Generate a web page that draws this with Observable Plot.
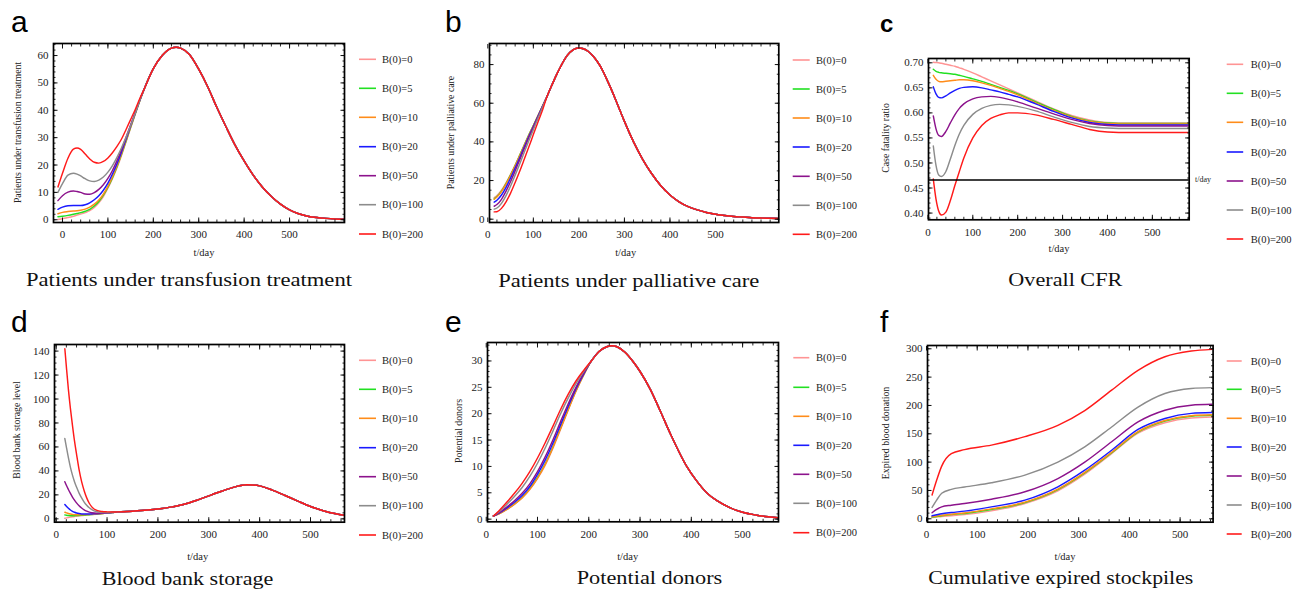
<!DOCTYPE html>
<html><head><meta charset="utf-8">
<script src="https://cdn.jsdelivr.net/npm/d3@7"></script>
<script src="https://cdn.jsdelivr.net/npm/@observablehq/plot@0.6"></script>
<style>
body{margin:0;background:#fff;}
#page{position:relative;width:1298px;height:592px;overflow:hidden;background:#fff;}
#page > div.plot{position:absolute;}
#overlay{position:absolute;left:0;top:0;}
</style></head><body><div id="page"></div>
<script>
// ---------- shared ----------
const seriesNames = ["B(0)=0","B(0)=5","B(0)=10","B(0)=20","B(0)=50","B(0)=100","B(0)=200"];
const seriesColors = ["#ff9494","#22e022","#ff8c1a","#1a1aff","#8c138c","#8c8c8c","#ff1a1a"];
const xTickLabels = [0, 100, 200, 300, 400, 500];

// ---------- panel a : patients under transfusion treatment ----------
const aTimeHead = [-10, 0, 12, 24, 32, 40, 50, 60, 70, 80, 90, 100, 110, 120, 130, 140, 150, 160, 170];
const aB0   = [0.1, 0.4, 0.8, 1.3, 1.7, 2.1, 2.6, 3.3, 4.5, 6.2, 8.5, 11.5, 15.0, 19.0, 23.5, 28.5, 33.5, 38.5, 43.3];
const aB5   = [1.1, 1.3, 1.6, 2.0, 2.3, 2.6, 3.1, 3.8, 5.0, 6.7, 9.0, 11.9, 15.4, 19.4, 23.9, 28.8, 33.8, 38.6, 43.4];
const aB10  = [2.2, 2.7, 3.0, 3.2, 3.3, 3.5, 3.9, 4.6, 5.7, 7.2, 9.4, 12.2, 15.7, 19.7, 24.2, 29.0, 34.0, 38.7, 43.5];
const aB20  = [3.8, 4.6, 5.1, 5.2, 5.2, 5.2, 5.5, 6.2, 7.3, 8.8, 10.8, 13.4, 16.7, 20.5, 24.8, 29.5, 34.3, 38.9, 43.6];
const aB50  = [7.0, 8.8, 10.1, 10.5, 10.3, 10.0, 9.4, 9.3, 9.9, 11.1, 12.8, 15.1, 18.0, 21.6, 25.6, 30.1, 34.6, 39.0, 43.7];
const aB100 = [10.0, 13.2, 16.3, 17.0, 16.7, 16.0, 15.0, 14.2, 14.0, 14.5, 15.6, 17.4, 19.8, 22.8, 26.3, 30.2, 34.4, 38.8, 43.6];
const aB200 = [12.0, 17.0, 22.5, 25.8, 26.2, 25.7, 24.0, 22.2, 21.0, 20.7, 21.3, 22.6, 24.5, 26.8, 29.5, 33.0, 36.6, 40.2, 44.2];
const aTimeTail = [180, 200, 220, 240, 250, 260, 280, 300, 320, 340, 360, 380, 400, 420, 440, 460, 480, 500, 520, 540, 560, 580, 600, 620];
const aTail = [47.8, 55.2, 60.1, 62.7, 63.0, 62.7, 60.3, 55.0, 48.5, 41.0, 34.0, 27.3, 21.5, 16.3, 12.0, 8.5, 5.7, 3.6, 2.2, 1.3, 0.8, 0.5, 0.3, 0.2];
const aYTicks = [0, 10, 20, 30, 40, 50, 60];

// ---------- panel b : patients under palliative care ----------
const bTimeHead = [14, 20, 30, 40, 50, 60, 70, 80, 90, 100, 110, 120];
const bB0   = [11.2, 12.3, 15.0, 18.8, 23.2, 28.0, 33.2, 38.5, 43.7, 48.5, 53.5, 58.5];
const bB5   = [10.5, 11.7, 14.5, 18.4, 22.9, 27.8, 33.0, 38.3, 43.5, 48.4, 53.4, 58.4];
const bB10  = [10.3, 11.5, 14.3, 18.2, 22.7, 27.6, 32.8, 38.1, 43.3, 48.3, 53.3, 58.4];
const bB20  = [8.8, 9.8, 12.5, 16.5, 21.3, 26.5, 31.8, 37.3, 42.8, 47.9, 53.1, 58.3];
const bB50  = [6.7, 7.6, 10.3, 14.5, 19.5, 25.0, 30.7, 36.4, 42.1, 47.4, 52.8, 58.1];
const bB100 = [5.2, 5.8, 8.2, 12.2, 17.2, 22.8, 28.6, 34.6, 40.6, 46.3, 52.1, 57.8];
const bB200 = [3.8, 3.9, 5.6, 9.0, 13.5, 19.0, 24.8, 31.0, 37.3, 43.8, 50.2, 56.3];
const bTimeTail = [130, 140, 150, 160, 170, 180, 190, 200, 210, 220, 230, 240, 250, 260, 270, 280, 290, 300, 320, 340, 360, 380, 400, 420, 440, 460, 480, 500, 520, 540, 560, 580, 600, 620, 639];
const bTail = [63.5, 69.0, 74.3, 79.0, 83.2, 86.2, 88.0, 88.6, 88.2, 86.9, 84.7, 81.7, 77.9, 73.0, 67.8, 62.2, 56.4, 50.6, 40.0, 31.0, 23.5, 17.3, 12.5, 9.0, 6.5, 4.8, 3.5, 2.6, 1.9, 1.4, 1.1, 0.8, 0.6, 0.5, 0.4];
const bYTicks = [0, 20, 40, 60, 80];

// ---------- panel c : overall CFR ----------
const cTime  = [12, 18, 24, 30, 40, 50, 60, 70, 80, 100, 120, 140, 160, 180, 200, 240, 280, 320, 360, 400, 450, 500, 582];
const cB0   = [0.701, 0.7005, 0.700, 0.699, 0.697, 0.695, 0.693, 0.690, 0.687, 0.680, 0.672, 0.664, 0.656, 0.648, 0.640, 0.624, 0.608, 0.595, 0.586, 0.581, 0.580, 0.580, 0.580];
const cB5   = [0.687, 0.683, 0.681, 0.680, 0.679, 0.678, 0.677, 0.675, 0.673, 0.668, 0.663, 0.657, 0.651, 0.645, 0.638, 0.622, 0.607, 0.593, 0.584, 0.580, 0.579, 0.579, 0.579];
const cB10  = [0.675, 0.667, 0.663, 0.662, 0.663, 0.664, 0.665, 0.666, 0.666, 0.664, 0.660, 0.655, 0.649, 0.643, 0.636, 0.620, 0.605, 0.592, 0.583, 0.579, 0.578, 0.578, 0.578];
const cB20  = [0.652, 0.638, 0.631, 0.630, 0.634, 0.640, 0.645, 0.649, 0.651, 0.652, 0.650, 0.646, 0.642, 0.637, 0.632, 0.618, 0.603, 0.590, 0.581, 0.577, 0.576, 0.576, 0.576];
const cB50  = [0.594, 0.568, 0.555, 0.553, 0.563, 0.580, 0.596, 0.609, 0.618, 0.628, 0.632, 0.633, 0.631, 0.627, 0.622, 0.610, 0.598, 0.587, 0.579, 0.575, 0.574, 0.574, 0.574];
const cB100 = [0.534, 0.495, 0.476, 0.473, 0.483, 0.508, 0.535, 0.558, 0.575, 0.597, 0.609, 0.615, 0.617, 0.616, 0.613, 0.604, 0.592, 0.581, 0.573, 0.570, 0.569, 0.569, 0.569];
const cB200 = [0.468, 0.428, 0.404, 0.396, 0.402, 0.425, 0.455, 0.483, 0.510, 0.550, 0.575, 0.589, 0.596, 0.600, 0.600, 0.596, 0.587, 0.577, 0.567, 0.562, 0.561, 0.561, 0.561];
const cReference = [0.466];
const cYTicks = [0.40, 0.45, 0.50, 0.55, 0.60, 0.65, 0.70];

// ---------- panel d : blood bank storage ----------
const dTimeHead = [17, 20, 24, 28, 32, 36, 40, 45, 50, 55, 60, 65, 70, 80, 90, 100, 110];
const dB0   = [0.5, 0.8, 1.1, 1.4, 1.7, 1.9, 2.2, 2.5, 2.7, 2.9, 3.1, 3.3, 3.5, 3.9, 4.3, 4.8, 5.2];
const dB5   = [3.3, 3.0, 2.8, 2.6, 2.6, 2.6, 2.7, 2.8, 3.0, 3.1, 3.3, 3.4, 3.6, 4.0, 4.4, 4.8, 5.2];
const dB10  = [5.5, 5.0, 4.4, 4.0, 3.7, 3.5, 3.4, 3.4, 3.4, 3.5, 3.6, 3.7, 3.8, 4.1, 4.5, 4.9, 5.3];
const dB20  = [12.0, 10.5, 8.8, 7.4, 6.3, 5.5, 4.9, 4.4, 4.1, 4.0, 4.0, 4.0, 4.1, 4.3, 4.6, 5.0, 5.3];
const dB50  = [31.0, 28.0, 24.5, 21.2, 18.2, 15.6, 13.3, 10.9, 9.0, 7.5, 6.4, 5.6, 5.1, 4.7, 4.8, 5.1, 5.4];
const dB100 = [67.0, 60.0, 51.0, 43.0, 36.5, 31.0, 26.5, 21.5, 17.5, 14.0, 11.3, 9.2, 7.7, 5.9, 5.3, 5.3, 5.5];
const dB200 = [142.0, 127.0, 108.0, 92.0, 78.0, 65.0, 54.0, 41.0, 31.0, 23.5, 17.5, 13.0, 10.0, 7.0, 6.1, 5.8, 5.7];
const dTimeTail = [120, 150, 180, 200, 225, 250, 275, 300, 325, 350, 375, 400, 425, 450, 475, 500, 525, 550, 567];
const dTail = [5.8, 6.4, 7.3, 8.2, 9.8, 12.0, 15.3, 19.2, 23.0, 26.5, 28.5, 27.5, 24.0, 19.5, 14.8, 10.3, 6.8, 4.2, 2.9];
const dYTicks = [0, 20, 40, 60, 80, 100, 120, 140];

// ---------- panel e : potential donors ----------
const eTimeHead = [14, 25, 40, 55, 70, 85, 100, 115, 130, 145, 160, 175, 190];
const eB0   = [0.6, 1.0, 1.8, 2.8, 4.0, 5.6, 7.7, 10.2, 13.4, 17.0, 20.7, 24.2, 27.3];
const eB5   = [0.6, 1.05, 1.9, 2.9, 4.1, 5.8, 7.9, 10.5, 13.7, 17.3, 20.9, 24.4, 27.4];
const eB10  = [0.6, 1.03, 1.85, 2.85, 4.05, 5.7, 7.8, 10.4, 13.6, 17.2, 20.8, 24.3, 27.35];
const eB20  = [0.6, 1.15, 2.1, 3.2, 4.5, 6.2, 8.5, 11.2, 14.4, 17.9, 21.4, 24.7, 27.5];
const eB50  = [0.6, 1.2, 2.3, 3.5, 4.9, 6.7, 9.0, 11.8, 15.0, 18.5, 21.9, 25.0, 27.7];
const eB100 = [0.6, 1.4, 2.8, 4.3, 6.0, 8.1, 10.6, 13.5, 16.7, 20.0, 23.0, 25.7, 28.0];
const eB200 = [0.6, 1.6, 3.2, 4.9, 6.8, 9.0, 11.6, 14.5, 17.6, 20.8, 23.7, 26.2, 28.2];
const eTimeTail = [205, 220, 235, 245, 255, 270, 287, 300, 320, 339, 360, 391, 410, 430, 450, 475, 500, 525, 550, 570];
const eTail = [30.0, 31.8, 32.7, 32.9, 32.7, 31.7, 29.8, 28.0, 24.6, 20.6, 16.0, 10.0, 7.3, 5.0, 3.5, 2.2, 1.3, 0.8, 0.45, 0.25];
const eYTicks = [0, 5, 10, 15, 20, 25, 30];

// ---------- panel f : cumulative expired stockpiles ----------
const fTime  = [11, 20, 30, 49, 75, 128, 194, 259, 312, 365, 417, 470, 522, 563];
const fB0   = [2.3, 3.2, 4.2, 5.3, 7.3, 14.0, 27.0, 49.4, 78.7, 115.0, 151.0, 169.5, 177.8, 179.5];
const fB5   = [3.0, 4.2, 5.5, 7.3, 9.5, 16.5, 28.5, 51.5, 81.0, 116.5, 153.0, 172.5, 181.0, 182.5];
const fB10  = [3.5, 4.8, 6.2, 8.0, 10.3, 17.5, 29.5, 52.5, 82.0, 117.5, 154.0, 173.5, 182.0, 183.5];
const fB20  = [5.3, 7.0, 8.8, 11.0, 13.5, 21.0, 33.0, 56.5, 85.8, 121.0, 157.6, 177.0, 186.0, 187.5];
const fB50  = [10.6, 16.5, 21.0, 24.0, 27.0, 34.6, 47.6, 71.0, 100.0, 136.0, 171.0, 191.6, 200.5, 202.0];
const fB100 = [20.0, 33.0, 45.0, 52.0, 56.0, 63.5, 77.0, 100.0, 127.0, 162.0, 197.0, 221.0, 230.0, 231.5];
const fB200 = [42.0, 68.0, 93.0, 115.0, 122.0, 130.0, 145.0, 165.0, 191.0, 227.0, 262.0, 286.0, 296.0, 299.0];
const fYTicks = [0, 50, 100, 150, 200, 250, 300];

// ---------- build tables ----------
function buildRows(headT, seriesArrays, tailT = [], tail = []) {
  const rows = [];
  seriesArrays.forEach((arr, k) => {
    headT.forEach((t, i) => rows.push({s: seriesNames[k], t, v: arr[i]}));
    tailT.forEach((t, i) => rows.push({s: seriesNames[k], t, v: tail[i]}));
  });
  return rows;
}
const aRows = buildRows(aTimeHead, [aB0, aB5, aB10, aB20, aB50, aB100, aB200], aTimeTail, aTail);
const bRows = buildRows(bTimeHead, [bB0, bB5, bB10, bB20, bB50, bB100, bB200], bTimeTail, bTail);
const cRows = buildRows(cTime, [cB0, cB5, cB10, cB20, cB50, cB100, cB200]);
const dRows = buildRows(dTimeHead, [dB0, dB5, dB10, dB20, dB50, dB100, dB200], dTimeTail, dTail);
const eRows = buildRows(eTimeHead, [eB0, eB5, eB10, eB20, eB50, eB100, eB200], eTimeTail, eTail);
const fRows = buildRows(fTime, [fB0, fB5, fB10, fB20, fB50, fB100, fB200]);

// ---------- layout ----------
const panels = [
  {rows: aRows, frame: {l: 53.3, t: 42.7, r: 344.3, b: 221.7}, xDomain: [-19.8, 621], yDomain: [-1.0, 64.4],
   yTicks: aYTicks, yMinorStep: 2, yFmt: d => d, letter: "a", letterPos: [11, 32], letterStyle: "normal",
   title: "Patients under transfusion treatment", titlePos: [189, 286, 326],
   xlab: [204, 252], ylab: "Patients under transfusion treatment", ylabPos: [17, 132.5],
   legend: {lx: 359, lw: 17, tx: 382, ys: [59.3, 88.3, 117.3, 146.7, 175.7, 204.7, 234]}},
  {rows: bRows, frame: {l: 489, t: 43.3, r: 778.3, b: 222.3}, xDomain: [3.7, 639], yDomain: [-1.7, 90.9],
   yTicks: bYTicks, yMinorStep: 5, yFmt: d => d, letter: "b", letterPos: [445, 32], letterStyle: "normal",
   title: "Patients under palliative care", titlePos: [628.7, 287, 261],
   xlab: [625.7, 252], ylab: "Patients under palliative care", ylabPos: [450.7, 132.5],
   legend: {lx: 792.7, lw: 17, tx: 816, ys: [60, 89, 118, 147, 176.3, 205.3, 234.3]}},
  {rows: cRows, frame: {l: 928.3, t: 57.7, r: 1189, b: 219}, xDomain: [1.3, 582], yDomain: [0.3866, 0.7086],
   yTicks: cYTicks, yMinorStep: 0.01, yFmt: d => d.toFixed(2), letter: "c", letterPos: [880, 32], letterStyle: "bold",
   title: "Overall CFR", titlePos: [1065.3, 286, 114],
   xlab: [1059, 248], ylab: "Case fatality ratio", ylabPos: [885, 138],
   legend: {lx: 1226.7, lw: 16.5, tx: 1250.7, ys: [64.3, 93.3, 122.3, 152, 181, 210, 239]},
   reference: cReference},
  {rows: dRows, frame: {l: 54.3, t: 344, r: 344.3, b: 521.7}, xDomain: [-3.3, 566.8], yDomain: [-2.8, 145.5],
   yTicks: dYTicks, yMinorStep: 5, yFmt: d => d, letter: "d", letterPos: [11, 332], letterStyle: "normal",
   title: "Blood bank storage", titlePos: [187.5, 585, 171.6],
   xlab: [197.7, 556.7], ylab: "Blood bank storage level", ylabPos: [16.7, 430],
   legend: {lx: 359, lw: 17, tx: 382, ys: [360.3, 389.3, 418.3, 447.7, 476.7, 505.7, 535]}},
  {rows: eRows, frame: {l: 487.3, t: 341.7, r: 778.3, b: 521}, xDomain: [2.5, 570], yDomain: [-0.5, 33.5],
   yTicks: eYTicks, yMinorStep: 1, yFmt: d => d, letter: "e", letterPos: [445, 332], letterStyle: "normal",
   title: "Potential donors", titlePos: [649.5, 584, 145.6],
   xlab: [627.7, 556.7], ylab: "Potential donors", ylabPos: [458.3, 431],
   legend: {lx: 793.3, lw: 16, tx: 816, ys: [357.7, 387.3, 416.3, 445.3, 474.3, 503.3, 532.7]}},
  {rows: fRows, frame: {l: 926.7, t: 345, r: 1212.3, b: 521.7}, xDomain: [2, 565], yDomain: [-6, 305.8],
   yTicks: fYTicks, yMinorStep: 10, yFmt: d => d, letter: "f", letterPos: [880, 332], letterStyle: "normal",
   title: "Cumulative expired stockpiles", titlePos: [1060.8, 583.5, 265],
   xlab: [1065, 556], ylab: "Expired blood donation", ylabPos: [885, 433],
   legend: {lx: 1226.7, lw: 15, tx: 1250.7, ys: [361, 389.3, 418.3, 447, 476, 505, 534]}}
];

const page = document.getElementById("page");
const mL = 42, mR = 6, mT = 6, mB = 24;
const serif = "'Liberation Serif', 'Times New Roman', serif";

function minorTicks(domain, step) {
  const lo = Math.ceil(domain[0] / step) * step;
  return d3.range(lo, domain[1] + step * 1e-6, step).map(v => +v.toFixed(6));
}

panels.forEach(p => {
  const fw = p.frame.r - p.frame.l, fh = p.frame.b - p.frame.t;
  const xMinor = minorTicks(p.xDomain, 20);
  const yMinor = minorTicks(p.yDomain, p.yMinorStep);
  const blank = {label: null, tickFormat: () => "", stroke: "#111"};
  const marks = [
    Plot.line(p.rows, {x: "t", y: "v", z: "s", stroke: "s", curve: "monotone-x", strokeWidth: 1.45, clip: true}),
  ];
  if (p.reference) marks.push(Plot.ruleY(p.reference, {stroke: "black", strokeWidth: 1.3}));
  marks.push(
    Plot.axisX({anchor: "bottom", ticks: xTickLabels, tickSize: 0, tickPadding: 8, label: null, fill: "#222"}),
    Plot.axisY({anchor: "left", ticks: p.yTicks, tickSize: 0, tickPadding: 5, label: null, tickFormat: p.yFmt, fill: "#222"}),
    Plot.axisX({anchor: "bottom", ticks: xTickLabels, tickSize: -4.5, ...blank, strokeWidth: 1}),
    Plot.axisX({anchor: "top", ticks: xTickLabels, tickSize: -4.5, ...blank, strokeWidth: 1}),
    Plot.axisX({anchor: "bottom", ticks: xMinor, tickSize: -2.5, ...blank, strokeWidth: 0.9}),
    Plot.axisX({anchor: "top", ticks: xMinor, tickSize: -2.5, ...blank, strokeWidth: 0.9}),
    Plot.axisY({anchor: "left", ticks: p.yTicks, tickSize: -4.5, ...blank, strokeWidth: 1}),
    Plot.axisY({anchor: "right", ticks: p.yTicks, tickSize: -4.5, ...blank, strokeWidth: 1}),
    Plot.axisY({anchor: "left", ticks: yMinor, tickSize: -2.5, ...blank, strokeWidth: 0.9}),
    Plot.axisY({anchor: "right", ticks: yMinor, tickSize: -2.5, ...blank, strokeWidth: 0.9}),
    Plot.frame({stroke: "#000", strokeWidth: 1.7})
  );
  const svg = Plot.plot({
    width: fw + mL + mR, height: fh + mT + mB,
    marginLeft: mL, marginRight: mR, marginTop: mT, marginBottom: mB,
    x: {domain: p.xDomain, label: null},
    y: {domain: p.yDomain, label: null},
    color: {domain: seriesNames, range: seriesColors},
    style: {fontFamily: serif, fontSize: "11px", background: "transparent", overflow: "visible"},
    marks
  });
  const holder = document.createElement("div");
  holder.className = "plot";
  holder.style.left = (p.frame.l - mL) + "px";
  holder.style.top = (p.frame.t - mT) + "px";
  holder.appendChild(svg);
  page.appendChild(holder);
});

// ---------- overlay: letters, titles, axis labels, legends ----------
const ov = d3.select(page).append("svg").attr("id", "overlay").attr("width", 1298).attr("height", 592);
panels.forEach(p => {
  ov.append("text").attr("x", p.letterPos[0]).attr("y", p.letterPos[1])
    .attr("font-family", "'Liberation Sans', Arial, sans-serif")
    .attr("font-size", p.letterStyle === "bold" ? 24 : 30)
    .attr("font-weight", p.letterStyle === "bold" ? "bold" : "normal")
    .attr("fill", "#000").text(p.letter);
  ov.append("text").attr("x", p.titlePos[0]).attr("y", p.titlePos[1])
    .attr("text-anchor", "middle").attr("font-family", serif).attr("font-size", 19.5)
    .attr("textLength", p.titlePos[2]).attr("lengthAdjust", "spacingAndGlyphs")
    .attr("fill", "#111").text(p.title);
  ov.append("text").attr("x", p.xlab[0]).attr("y", p.xlab[1])
    .attr("text-anchor", "middle").attr("dominant-baseline", "central")
    .attr("font-family", serif).attr("font-size", 10.5).attr("fill", "#222").text("t/day");
  ov.append("text").attr("transform", `translate(${p.ylabPos[0]},${p.ylabPos[1]}) rotate(-90)`)
    .attr("text-anchor", "middle").attr("dominant-baseline", "central")
    .attr("font-family", serif).attr("font-size", 9.8).attr("fill", "#222").text(p.ylab);
  const lg = p.legend;
  seriesNames.forEach((name, k) => {
    const y = lg.ys[k];
    ov.append("line").attr("x1", lg.lx).attr("x2", lg.lx + lg.lw).attr("y1", y).attr("y2", y)
      .attr("stroke", seriesColors[k]).attr("stroke-width", 1.6);
    ov.append("text").attr("x", lg.tx).attr("y", y).attr("dominant-baseline", "central")
      .attr("font-family", serif).attr("font-size", 10.5).attr("fill", "#222").text(name);
  });
});
// small axis tag next to the reference line in panel c
ov.append("text").attr("x", 1195).attr("y", 179).attr("dominant-baseline", "central")
  .attr("font-family", serif).attr("font-size", 8).attr("fill", "#222").text("t/day");
</script></body></html>
